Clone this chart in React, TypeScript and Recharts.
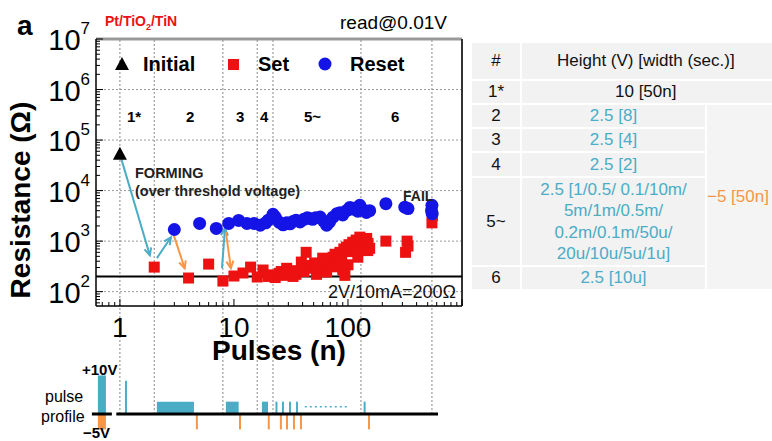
import React from 'react';
import {
    ComposedChart,
    Scatter,
    XAxis,
    YAxis,
    ReferenceLine,
    ReferenceArea,
} from 'recharts';

const TEAL = '#4bacc6';
const ORANGE = '#f79646';
const FONT = '"Liberation Sans", Arial, sans-serif';

// pulse number, resistance (ohm)
const initialPoints: [number, number][] = [[1, 51000]];

const setPoints: [number, number][] = [
    [2, 306], [4, 186], [6, 351], [8, 162], [10, 204], [12, 234], [14, 306], [16, 195],
    [18, 268], [20, 200], [22, 215], [23, 190], [25, 230], [26, 250], [27, 210], [29, 290],
    [31, 240], [33, 200], [35, 220], [36, 260], [39, 385], [41, 250], [43, 600], [46, 290],
    [48, 330], [51, 370], [53, 220], [55, 300], [58, 350], [60, 460], [63, 400], [65, 245],
    [68, 320], [70, 400], [74, 480], [77, 550], [80, 310], [83, 420], [85, 600], [88, 520],
    [90, 270], [92, 700], [94, 210], [97, 760], [100, 340], [102, 850], [105, 620], [110, 950],
    [113, 700], [116, 820], [118, 1050], [122, 480], [127, 1200], [130, 1100], [135, 760],
    [140, 1000], [146, 1130], [149, 650], [150, 900], [155, 720], [215, 1000], [320, 600],
    [330, 1000], [336, 800], [545, 2300], [550, 3200],
];

const resetPoints: [number, number][] = [
    [3, 1700], [5, 2240], [7, 1780], [9, 2240], [11, 2570], [13, 2240], [15, 2240], [17, 2060],
    [19, 2300], [20, 2600], [22, 3400], [23, 3000], [25, 2350], [27, 2100], [29, 2300], [31, 2200],
    [33, 2450], [35, 2600], [38, 2400], [41, 2700], [44, 2900], [46, 2800], [49, 2700], [52, 2900],
    [57, 3000], [61, 2500], [65, 2060], [69, 2400], [74, 2980], [80, 3500], [85, 3660], [90, 3300],
    [97, 4000], [104, 4650], [110, 4300], [116, 4500], [122, 3900], [127, 5100], [135, 4200],
    [145, 3700], [155, 4000], [215, 5500], [315, 4700], [336, 4400], [540, 4000], [545, 5100],
    [548, 3500],
];

// segment boundaries (pulse number) and labels
const boundaries = [1, 2, 8, 16, 22, 130, 545];
const decades = [100, 1000, 10000, 100000, 1000000];
const currentLimit = 200;

// arrows: [fromN, fromR, toN, toR]
const setArrows: [number, number, number, number][] = [
    [1.03, 42000, 1.83, 525],
    [2.11, 460, 2.8, 1190],
    [7.85, 290, 8.35, 1800],
];
const resetArrows: [number, number, number, number][] = [
    [2.97, 1300, 3.7, 290],
    [8.5, 1500, 9.4, 290],
];

// pulse profile (schematic): position in pulse number, height in V-units
const profileBlocks: [number, number, number][] = [
    [2.11, 4.46, 3.2],
    [8.5, 11.0, 3.2],
    [17.6, 19.9, 3.2],
];
const positivePulses: [number, number][] = [
    [1.13, 8.6], [23.6, 3.2], [26.9, 3.2], [31, 3.2], [35.7, 3.2], [140, 3.2],
];
const negativePulses = [4.73, 11.3, 20.2, 25.8, 29.2, 33.6, 38.7, 153];
const profileLegendBar: [number, number, number, number] = [0.641, 0.754, 10, -4];

const xTicks = [0.7, 0.8, 0.9, 1, 2, 3, 4, 5, 6, 7, 8, 9, 10, 20, 30, 40, 50, 60, 70, 80, 90,
    100, 200, 300, 400, 500, 600, 700, 800, 900, 1000];
const xLabels = [1, 10, 100];
const yTicks = [60, 70, 80, 90, 100, 200, 300, 400, 500, 600, 700, 800, 900,
    1e3, 2e3, 3e3, 4e3, 5e3, 6e3, 7e3, 8e3, 9e3, 1e4, 2e4, 3e4, 4e4, 5e4, 6e4, 7e4, 8e4, 9e4,
    1e5, 2e5, 3e5, 4e5, 5e5, 6e5, 7e5, 8e5, 9e5, 1e6, 2e6, 3e6, 4e6, 5e6, 6e6, 7e6, 8e6, 9e6, 1e7];

const tableRows = ['1*', '2', '3', '4', '5~', '6'];
const tableHeights = ['10 [50n]', '2.5 [8]', '2.5 [4]', '2.5 [2]',
    '2.5 [1/0.5/ 0.1/10m/\n5m/1m/0.5m/\n0.2m/0.1m/50u/\n20u/10u/5u/1u]', '2.5 [10u]'];
const resetHeight = '\u22125 [50n]';

const toPts = (arr: [number, number][]) => arr.map(([n, r]) => ({ n, r }));

const isDecade = (v: number) => Math.abs(Math.log10(v) - Math.round(Math.log10(v))) < 1e-6;

const YTick = (props: any) => {
    const { x, y, payload } = props;
    const v = payload.value;
    const major = isDecade(v);
    const e = Math.round(Math.log10(v));
    return (
        <g>
            <line x1={x} y1={y} x2={x + (major ? 7 : 4)} y2={y} stroke="#000" strokeWidth={1} />
            {major && (
                <text x={x - 6} y={y + 11} textAnchor="end" fontFamily={FONT} fill="#000">
                    <tspan fontSize={29}>10</tspan>
                    <tspan fontSize={17} dy={-16}>{e}</tspan>
                </text>
            )}
        </g>
    );
};

const XTick = (props: any) => {
    const { x, y, payload } = props;
    const v = payload.value;
    const major = isDecade(v);
    return (
        <g>
            <line x1={x} y1={y} x2={x} y2={y - (major ? 7 : 4)} stroke="#000" strokeWidth={1} />
            {xLabels.includes(v) && (
                <text x={x} y={y + 31} textAnchor="middle" fontFamily={FONT} fontSize={28} fill="#000">
                    {v}
                </text>
            )}
        </g>
    );
};

const arrowShape = (color: string) => (props: any) => {
    const { x1, y1, x2, y2 } = props;
    const a = Math.atan2(y2 - y1, x2 - x1);
    const L = 8;
    const w = 0.45;
    const p1 = `${x2 - L * Math.cos(a - w)},${y2 - L * Math.sin(a - w)}`;
    const p2 = `${x2 - L * Math.cos(a + w)},${y2 - L * Math.sin(a + w)}`;
    return (
        <g>
            <line x1={x1} y1={y1} x2={x2} y2={y2} stroke={color} strokeWidth={2} />
            <polyline points={`${p1} ${x2},${y2} ${p2}`} fill="none" stroke={color} strokeWidth={2} />
        </g>
    );
};

const triangle = (p: any) => (
    <polygon points={`${p.cx},${p.cy - 8} ${p.cx - 7},${p.cy + 5} ${p.cx + 7},${p.cy + 5}`} fill="#000" />
);
const square = (p: any) => <rect x={p.cx - 5.5} y={p.cy - 5.5} width={11} height={11} fill="#ee1111" />;
const circle = (p: any) => <circle cx={p.cx} cy={p.cy} r={6.5} fill="#1414e6" />;

const X_DOMAIN: [number, number] = [0.617, 1000];
const Y_DOMAIN: [number, number] = [52, 1e7];

const abs = (style: React.CSSProperties): React.CSSProperties => ({
    position: 'absolute', fontFamily: FONT, whiteSpace: 'nowrap', lineHeight: 1, ...style,
});

const cell = (extra: React.CSSProperties): React.CSSProperties => ({
    background: '#f2f2f2', display: 'flex', alignItems: 'center', justifyContent: 'center',
    fontSize: 17, color: '#111', ...extra,
});

export default function App() {
    return (
        <div style={{ position: 'absolute', left: 0, top: 0, width: 772, height: 441, overflow: 'hidden', background: '#fff' }}>
            <div style={{ position: 'absolute', left: 0, top: 306 }}>
                <ComposedChart width={470} height={135} margin={{ top: 0, right: 8, bottom: 0, left: 96 }}>
                    <XAxis type="number" dataKey="n" scale="log" domain={X_DOMAIN} allowDataOverflow hide />
                    <YAxis type="number" domain={[-7, 28]} allowDataOverflow hide />
                    {boundaries.map((b) => (
                        <ReferenceLine key={'pb' + b} segment={[{ x: b, y: 0 }, { x: b, y: 28 }]}
                            stroke="#888" strokeDasharray="2 2" strokeWidth={1} ifOverflow="visible" />
                    ))}
                    <ReferenceArea x1={profileLegendBar[0]} x2={profileLegendBar[1]} y1={0} y2={profileLegendBar[2]}
                        fill={TEAL} fillOpacity={1} stroke="none" ifOverflow="visible" />
                    <ReferenceArea x1={profileLegendBar[0]} x2={profileLegendBar[1]} y1={profileLegendBar[3]} y2={0}
                        fill={ORANGE} fillOpacity={1} stroke="none" ifOverflow="visible" />
                    {profileBlocks.map(([a, b, h]) => (
                        <ReferenceArea key={'blk' + a} x1={a} x2={b} y1={0} y2={h}
                            fill={TEAL} fillOpacity={1} stroke="none" ifOverflow="visible" />
                    ))}
                    {positivePulses.map(([p, h]) => (
                        <ReferenceLine key={'pp' + p} segment={[{ x: p, y: 0 }, { x: p, y: h }]}
                            stroke={TEAL} strokeWidth={2} ifOverflow="visible" />
                    ))}
                    {negativePulses.map((p) => (
                        <ReferenceLine key={'np' + p} segment={[{ x: p, y: 0 }, { x: p, y: -4 }]}
                            stroke={ORANGE} strokeWidth={2} ifOverflow="visible" />
                    ))}
                    <ReferenceLine segment={[{ x: 41.8, y: 1.9 }, { x: 98, y: 1.9 }]}
                        stroke={TEAL} strokeWidth={1.5} strokeDasharray="2 3" ifOverflow="visible" />
                    <ReferenceLine segment={[{ x: 0.568, y: 0 }, { x: 0.85, y: 0 }]}
                        stroke="#000" strokeWidth={3} ifOverflow="visible" />
                    <ReferenceLine segment={[{ x: 0.93, y: 0 }, { x: 616, y: 0 }]}
                        stroke="#000" strokeWidth={3} ifOverflow="visible" />
                </ComposedChart>
            </div>

            <div style={{ position: 'absolute', left: 0, top: 0 }}>
                <ComposedChart width={470} height={345} margin={{ top: 39, right: 8, bottom: 0, left: 36 }}>
                    <XAxis type="number" dataKey="n" scale="log" domain={X_DOMAIN} allowDataOverflow
                        ticks={xTicks} interval={0} tick={<XTick />} tickSize={0} tickMargin={0}
                        height={39} axisLine={{ stroke: '#000', strokeWidth: 1.5 }} tickLine={false} />
                    <YAxis type="number" dataKey="r" scale="log" domain={Y_DOMAIN} allowDataOverflow
                        ticks={yTicks} interval={0} tick={<YTick />} tickSize={0} tickMargin={0}
                        width={60} axisLine={{ stroke: '#000', strokeWidth: 1.5 }} tickLine={false} />
                    {decades.map((d) => (
                        <ReferenceLine key={'d' + d} y={d} stroke="#999" strokeDasharray="2 2" strokeWidth={1} />
                    ))}
                    {boundaries.map((b) => (
                        <ReferenceLine key={'b' + b} x={b} stroke="#888" strokeDasharray="2 2" strokeWidth={1} />
                    ))}
                    <ReferenceLine y={1e7} stroke="#999" strokeWidth={3} />
                    <ReferenceLine x={1000} stroke="#333" strokeWidth={2} />
                    <ReferenceLine y={currentLimit} stroke="#000" strokeWidth={2} />
                    <Scatter name="Set" data={toPts(setPoints)} shape={square} isAnimationActive={false} />
                    <Scatter name="Reset" data={toPts(resetPoints)} shape={circle} isAnimationActive={false} />
                    <Scatter name="Initial" data={toPts(initialPoints)} shape={triangle} isAnimationActive={false} />
                    {setArrows.map(([a, b, c, d], i) => (
                        <ReferenceLine key={'sa' + i} segment={[{ x: a, y: b }, { x: c, y: d }]}
                            shape={arrowShape(TEAL)} ifOverflow="visible" />
                    ))}
                    {resetArrows.map(([a, b, c, d], i) => (
                        <ReferenceLine key={'ra' + i} segment={[{ x: a, y: b }, { x: c, y: d }]}
                            shape={arrowShape(ORANGE)} ifOverflow="visible" />
                    ))}
                </ComposedChart>
            </div>

            {/* titles */}
            <div style={abs({ left: 17, top: 12, fontSize: 28, fontWeight: 'bold' })}>a</div>
            <div style={abs({ left: 105, top: 14, fontSize: 14, fontWeight: 'bold', color: '#ee1111' })}>
                Pt/TiO<sub style={{ fontSize: 9 }}>2</sub>/TiN
            </div>
            <div style={abs({ left: 340, top: 13, fontSize: 19 })}>read@0.01V</div>

            {/* legend */}
            <svg style={{ position: 'absolute', left: 110, top: 54 }} width={230} height={22}>
                <polygon points="12,3 5,16 19,16" fill="#000" />
                <rect x={118} y={5} width={11} height={11} fill="#ee1111" />
                <circle cx={215} cy={10} r={6.5} fill="#1414e6" />
            </svg>
            <div style={abs({ left: 143, top: 54, fontSize: 20, fontWeight: 'bold' })}>Initial</div>
            <div style={abs({ left: 258, top: 54, fontSize: 20, fontWeight: 'bold' })}>Set</div>
            <div style={abs({ left: 350, top: 54, fontSize: 20, fontWeight: 'bold' })}>Reset</div>

            {/* segment labels */}
            <div style={abs({ left: 127, top: 109, fontSize: 15, fontWeight: 'bold' })}>1*</div>
            <div style={abs({ left: 186, top: 109, fontSize: 15, fontWeight: 'bold' })}>2</div>
            <div style={abs({ left: 236, top: 109, fontSize: 15, fontWeight: 'bold' })}>3</div>
            <div style={abs({ left: 260, top: 109, fontSize: 15, fontWeight: 'bold' })}>4</div>
            <div style={abs({ left: 304, top: 109, fontSize: 15, fontWeight: 'bold' })}>5~</div>
            <div style={abs({ left: 391, top: 109, fontSize: 15, fontWeight: 'bold' })}>6</div>

            {/* annotations */}
            <div style={abs({ left: 135, top: 164, fontSize: 14.5, fontWeight: 'bold', color: '#222', lineHeight: '18px' })}>
                FORMING<br />(over threshold voltage)
            </div>
            <div style={abs({ left: 403, top: 189, fontSize: 14, fontWeight: 'bold', color: '#222' })}>FAIL</div>
            <div style={abs({ left: 328, top: 283, fontSize: 18, color: '#111' })}>2V/10mA=200Ω</div>

            {/* axis titles */}
            <div style={abs({ left: 212, top: 337, fontSize: 28, fontWeight: 'bold' })}>Pulses (n)</div>
            <div style={abs({ left: 21, top: 200, fontSize: 28, fontWeight: 'bold', transform: 'translate(-50%, -50%) rotate(-90deg)' })}>
                Resistance (Ω)
            </div>

            {/* pulse profile labels */}
            <div style={abs({ left: 82, top: 362, fontSize: 15, fontWeight: 'bold' })}>+10V</div>
            <div style={abs({ left: 45, top: 389, fontSize: 16 })}>pulse</div>
            <div style={abs({ left: 41, top: 409, fontSize: 16 })}>profile</div>
            <div style={abs({ left: 83, top: 425, fontSize: 15, fontWeight: 'bold' })}>{'\u22125V'}</div>

            {/* table */}
            <div style={{
                position: 'absolute', left: 472, top: 43, display: 'grid', fontFamily: FONT,
                gridTemplateColumns: '48px 183px 80px',
                gridTemplateRows: '36px 22px 22px 22px 23px 87px 22px', gap: 2,
            }}>
                <div style={cell({ gridColumn: '1', gridRow: '1' })}>#</div>
                <div style={cell({ gridColumn: '2 / 4', gridRow: '1', justifyContent: 'flex-start', paddingLeft: 35 })}>
                    Height (V) [width (sec.)]
                </div>
                {tableRows.map((r, i) => (
                    <React.Fragment key={r}>
                        <div style={cell({ gridColumn: '1', gridRow: String(i + 2) })}>{r}</div>
                        <div style={cell({
                            gridColumn: i === 0 ? '2 / 4' : '2', gridRow: String(i + 2),
                            color: i === 0 ? '#111' : TEAL, whiteSpace: 'pre', textAlign: 'center', lineHeight: '21.5px',
                            justifyContent: i === 0 ? 'flex-start' : 'center', paddingLeft: i === 0 ? 93 : 0,
                        })}>{tableHeights[i]}</div>
                    </React.Fragment>
                ))}
                <div style={cell({ gridColumn: '3', gridRow: '3 / 8', color: ORANGE, justifyContent: 'flex-start', background: '#f4f4f4' })}>
                    {resetHeight}
                </div>
            </div>
        </div>
    );
}
